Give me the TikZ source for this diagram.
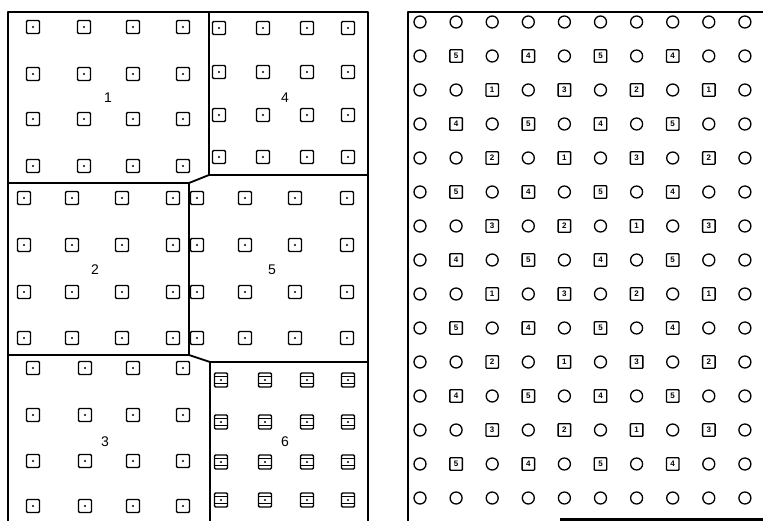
\documentclass[tikz,border=0pt]{standalone}
\usepackage{fontspec}
\setmainfont{Liberation Sans}
\begin{document}
\begin{tikzpicture}[x=1pt,y=-1pt,
  outer/.style={line width=2.4pt, line join=round},
  divider/.style={line width=1.8pt, line join=round},
  cell/.style={draw, line width=1.4pt, rounded corners=1.2pt, minimum width=13pt, minimum height=13pt, inner sep=0pt,
    path picture={\fill (path picture bounding box.center) circle (1.2pt);}},
  barcell/.style={draw, line width=1.4pt, rounded corners=1.2pt, minimum width=13pt, minimum height=14pt, inner sep=0pt,
    path picture={\fill (path picture bounding box.center) circle (1.2pt);
      \draw[line width=1pt] ([yshift=-3.4pt]path picture bounding box.north west) -- ([yshift=-3.4pt]path picture bounding box.north east);
      \draw[line width=1.4pt] ([yshift=3.4pt]path picture bounding box.south west) -- ([yshift=3.4pt]path picture bounding box.south east);}},
  hole/.style={draw, circle, line width=1.3pt, minimum size=12pt, inner sep=0pt},
  numcell/.style={draw, line width=1.4pt, rounded corners=0.8pt, minimum size=12.5pt, inner sep=0pt, font=\bfseries\fontsize{8}{8}\selectfont},
  lab/.style={font=\fontsize{14}{14}\selectfont, inner sep=0pt}]
\useasboundingbox (0,0) rectangle (763,521);

% ---- left panel walls
\draw[outer] (8,521) -- (8,12) -- (368,12) -- (368,521);
\draw[divider] (209,12) -- (209,175) -- (368,175);
\draw[divider] (209,175) -- (189,183) -- (8,183);
\draw[divider] (189,183) -- (189,355) -- (8,355);
\draw[divider] (189,355) -- (210,362) -- (368,362);
\draw[divider] (210,362) -- (210,521);

% ---- left panel cells
\foreach \reg/\cols/\rows in {
  1/{33,84,133,183}/{27,74,119,166},
  4/{219,263,307,348}/{28,72,115,157},
  2/{24,72,122,173}/{198,245,292,338},
  5/{197,245,295,347}/{198,245,292,338},
  3/{33,85,133,183}/{368,415,461,506},
  6/{221,265,307,348}/{380,422,462,500}} {
  \foreach \xx [count=\i] in \cols {
    \foreach \yy [count=\j] in \rows {
      \ifnum\reg=6
        \node[barcell] (s\reg-\i-\j) at (\xx,\yy) {};
      \else
        \node[cell] (s\reg-\i-\j) at (\xx,\yy) {};
      \fi
    }
  }
}

% ---- region labels
\node[lab] (l1) at (108,98) {1};
\node[lab] (l4) at (285,98) {4};
\node[lab] (l2) at (95,270) {2};
\node[lab] (l5) at (272,270) {5};
\node[lab] (l3) at (105,442) {3};
\node[lab] (l6) at (285,442) {6};

% ---- right panel walls
\draw[outer] (763,12) -- (408,12) -- (408,521);
\draw[outer] (560,519.5) -- (763,519.5);

% ---- right panel grid
\foreach \lst [count=\k from 0] in {
  {0,0,0,0,0,0,0,0,0,0},
  {0,5,0,4,0,5,0,4,0,0},
  {0,0,1,0,3,0,2,0,1,0},
  {0,4,0,5,0,4,0,5,0,0},
  {0,0,2,0,1,0,3,0,2,0},
  {0,5,0,4,0,5,0,4,0,0},
  {0,0,3,0,2,0,1,0,3,0},
  {0,4,0,5,0,4,0,5,0,0},
  {0,0,1,0,3,0,2,0,1,0},
  {0,5,0,4,0,5,0,4,0,0},
  {0,0,2,0,1,0,3,0,2,0},
  {0,4,0,5,0,4,0,5,0,0},
  {0,0,3,0,2,0,1,0,3,0},
  {0,5,0,4,0,5,0,4,0,0},
  {0,0,0,0,0,0,0,0,0,0}} {
  \foreach \v [count=\c from 0] in \lst {
    \pgfmathsetmacro\px{420+36.1*\c}
    \pgfmathsetmacro\py{22+34*\k}
    \ifnum\v=0
      \node[hole] (p-\k-\c) at (\px,\py) {};
    \else
      \node[numcell] (p-\k-\c) at (\px,\py) {\v};
    \fi
  }
}
\end{tikzpicture}
\end{document}
